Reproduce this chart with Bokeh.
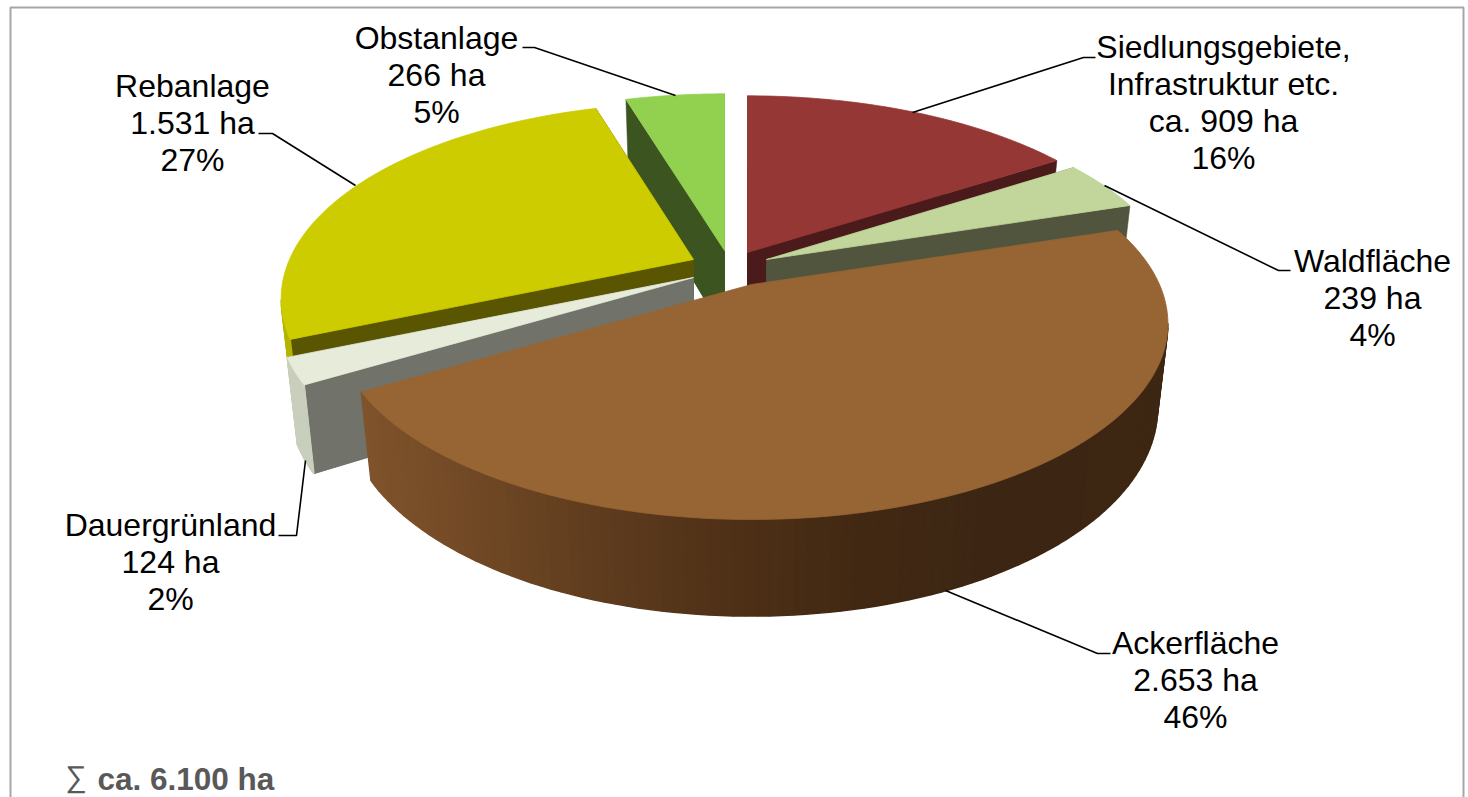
import numpy as np
from bokeh.embed import file_html
from bokeh.models import ColumnDataSource
from bokeh.plotting import figure
from bokeh.resources import INLINE
from bokeh.core.properties import value

# Land use, hectares, clockwise from twelve o'clock
names = ["Siedlungsgebiete,\nInfrastruktur etc.", "Waldfläche", "Ackerfläche",
         "Dauergrünland", "Rebanlage", "Obstanlage"]
areas = [909, 239, 2653, 124, 1531, 266]
area_labels = ["ca. 909 ha", "239 ha", "2.653 ha", "124 ha", "1.531 ha", "266 ha"]
total_label = "ca. 6.100 ha"

top_colors = ["#953735", "#c2d69b", "#976433", "#e6ecd9", "#cccc00", "#92d050"]
side_colors = ["#4b1a1a", "#52553e", "#3d2613", "#71736a", "#5a5500", "#3c5420"]
rim_colors = ["#7a2c2b", "#9fb07f", None, "#c9cfbd", "#b5b500", "#6f9e3c"]

# Where each exploded slice has its tip, and its radius on the page
tips = [(747, 252), (766, 259), (751, 284), (693, 277), (693, 259), (724, 250)]
radii = [408, 405, 408, 407, 404, 408]
RY, TILT, DEPTH, SHRINK = 188.0, 0.2, 82.0, 0.975
# Back-to-front painting order
paint_order = [5, 0, 1, 4, 3, 2]

label_centers = [1223, 1372, 1195, 170, 192, 436]
label_first_y = [46, 260, 642, 524, 85, 37]
LINE_STEP = 37
leaders = [
    ([912, 1083, 1095], [112, 57, 57]),
    ([1104, 1278, 1290], [185, 270, 270]),
    ([945, 1097, 1110], [590, 653, 653]),
    ([305, 296, 278], [460, 535, 535]),
    ([355, 272, 258], [185, 133, 133]),
    ([675, 534, 522], [95, 47, 47]),
]
# Ackerfläche wall shading, by page x
wall_x = [358, 480, 620, 760, 860, 1000, 1170]
wall_rgb = [(128, 84, 44), (112, 72, 37), (92, 58, 29), (76, 47, 22), (66, 41, 19), (60, 38, 19), (62, 40, 20)]

p = figure(width=1468, height=797, x_range=(0, 1468), y_range=(797, 0),
           output_backend="svg", toolbar_location=None, min_border=0,
           outline_line_color=None, background_fill_color="white")
p.axis.visible = False
p.grid.visible = False


def project(i, theta, lower=False):
    """Page position of a rim point at clockwise angle theta (radians)."""
    x, z = np.sin(theta), -np.cos(theta)
    w = 1 - TILT * z
    sx, sy = radii[i] * x / w, RY * z / w
    if lower:
        return tips[i][0] + sx * SHRINK, tips[i][1] + sy * SHRINK + DEPTH / w
    return tips[i][0] + sx, tips[i][1] + sy


def lower_tip(i):
    return tips[i][0], tips[i][1] + DEPTH


# Chart frame, open at the bottom edge
p.line([10, 10, 1463, 1463], [797, 7, 7, 797], line_color="#a6a6a6", line_width=2)

shares = np.array(areas, dtype=float) / sum(areas)
edges = np.concatenate([[0], np.cumsum(shares)]) * 2 * np.pi

for i in paint_order:
    th = np.linspace(edges[i], edges[i + 1], 121 if i == 2 else 61)
    tx, ty = project(i, th)
    bx, by = project(i, th, lower=True)
    apex = tips[i]
    base = lower_tip(i)

    # Underside and both cut faces; the largest slice shows neither of them
    if rim_colors[i] is not None:
        xs = [[base[0], *bx], [apex[0], tx[0], bx[0], base[0]], [apex[0], tx[-1], bx[-1], base[0]]]
        ys = [[base[1], *by], [apex[1], ty[0], by[0], base[1]], [apex[1], ty[-1], by[-1], base[1]]]
        p.patches(xs, ys, fill_color=side_colors[i], line_color=side_colors[i], line_width=0.5)

    # Outer wall, only where it turns towards the viewer
    sx, sy, sc = [], [], []
    for a in range(len(th) - 1):
        if tx[a + 1] < tx[a]:
            sx.append([tx[a], tx[a + 1], bx[a + 1], bx[a]])
            sy.append([ty[a], ty[a + 1], by[a + 1], by[a]])
            if rim_colors[i] is None:
                mid = (tx[a] + tx[a + 1]) / 2
                rgb = [int(np.interp(mid, wall_x, [c[k] for c in wall_rgb])) for k in range(3)]
                sc.append("#%02x%02x%02x" % tuple(rgb))
            else:
                sc.append(rim_colors[i])
    if sx:
        p.patches(sx, sy, fill_color=sc, line_color=sc, line_width=1.5)

    p.patch([apex[0], *tx], [apex[1], *ty], fill_color=top_colors[i],
            line_color=top_colors[i], line_width=0.8)

# Leader lines
for lx, ly in leaders:
    p.line(lx, ly, line_color="black", line_width=1.6)

# Labels, one text per line
tx_x, tx_y, tx_s = [], [], []
for i in range(len(names)):
    lines = names[i].split("\n") + [area_labels[i], f"{round(100 * shares[i])}%"]
    for n, s in enumerate(lines):
        tx_x.append(label_centers[i])
        tx_y.append(label_first_y[i] + n * LINE_STEP)
        tx_s.append(s)
p.text(x="x", y="y", text="s", source=ColumnDataSource(dict(x=tx_x, y=tx_y, s=tx_s)),
       text_align="center", text_baseline="middle", text_color="black",
       text_font=value("Liberation Sans"), text_font_size="32px")

p.text(x=[65], y=[776], text=["∑"], text_align="left", text_baseline="middle",
       text_color="#595959", text_font=value("Liberation Sans"), text_font_size="30px")
p.text(x=[97], y=[778], text=[total_label], text_align="left", text_baseline="middle",
       text_color="#595959", text_font=value("Liberation Sans"), text_font_size="31.5px",
       text_font_style="bold")

open("out.html", "w").write(file_html(p, INLINE))
